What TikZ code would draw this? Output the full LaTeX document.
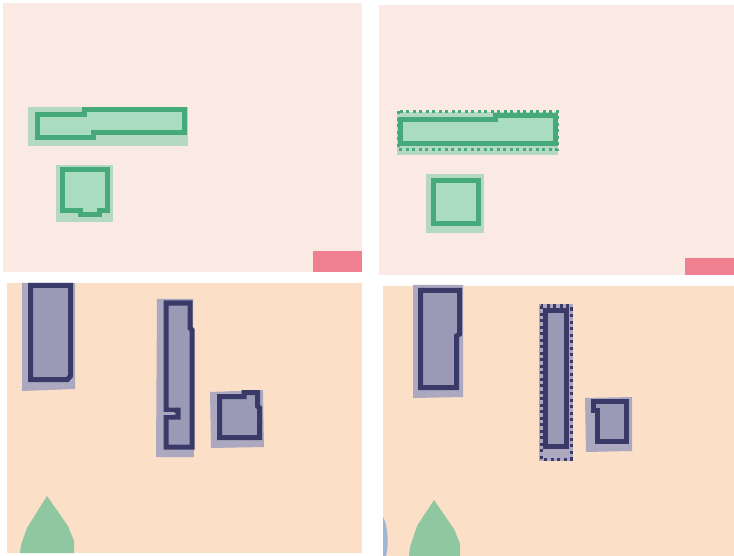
\documentclass[tikz,border=0pt]{standalone}
\usepackage{tikz}
\definecolor{cSkyT}{HTML}{FBEAE4}
\definecolor{cSandB}{HTML}{FBDFC7}
\definecolor{cGreen}{HTML}{45A97A}
\definecolor{cGreenL}{HTML}{AADCC2}
\definecolor{cGreenH}{HTML}{B3D9C3}
\definecolor{cNavy}{HTML}{3A3A68}
\definecolor{cNavyL}{HTML}{9A9AB6}
\definecolor{cNavyH}{HTML}{ACA8C0}
\definecolor{cLeaf}{HTML}{8FC7A0}
\definecolor{cRed}{HTML}{F0808F}
\definecolor{cPale}{HTML}{9DB8D6}

\begin{document}
\begin{tikzpicture}[
    x=1pt, y=-1pt,
    panelT/.style={fill=cSkyT},
    panelB/.style={fill=cSandB},
    ghalo/.style={fill=cGreenH},
    gline/.style={draw=cGreen, fill=cGreenL, line width=5pt, line join=miter},
    gdots/.style={draw=cGreen, line width=3pt, dash pattern=on 3pt off 3.5pt},
    nhalo/.style={fill=cNavyH},
    nline/.style={draw=cNavy, fill=cNavyL, line width=5pt, line join=miter},
    ndots/.style={draw=cNavy, line width=3pt, dash pattern=on 3pt off 3.5pt},
    spire/.style={fill=cLeaf},
    tag/.style={fill=cRed}]

    \useasboundingbox[fill=white] (0,0) rectangle (734,556);

    \fill[panelT] (3,3) rectangle (362,272);
    \fill[panelT] (379,5) rectangle (734,275);
    \fill[panelB] (7,283) rectangle (362,553);
    \fill[panelB] (383,286) rectangle (734,556);

    % top left
    \fill[ghalo] (28,107) rectangle (188,146);
    \draw[gline] (37,115) -- (84,115) -- (84,109.5) -- (184,109.5) -- (184,133)
      -- (93,133) -- (93,138) -- (37,138) -- cycle;
    \fill[ghalo] (56,165) rectangle (113,222);
    \draw[gline] (62,170) -- (107,170) -- (107,211) -- (99,211) -- (99,215)
      -- (80,215) -- (80,211) -- (62,211) -- cycle;
    \fill[tag] (313,251) rectangle (362,272);

    % top right
    \fill[ghalo] (397,112) rectangle (558,155);
    \draw[gdots] (398.5,111.5) rectangle (557,150);
    \draw[gline] (400,120) -- (495,120) -- (495,116) -- (555,116) -- (555,144)
      -- (400,144) -- cycle;
    \fill[ghalo] (426,174) rectangle (484,233);
    \draw[gline] (433.5,180.5) rectangle (478.5,223.5);
    \fill[tag] (685,258) rectangle (734,275);

    % bottom left
    \fill[nhalo] (22,283) -- (75,283) -- (75,389) -- (22,391) -- cycle;
    \draw[nline] (30.5,285.5) -- (70.5,285.5) -- (70.5,376) -- (67.5,379.5)
      -- (30.5,379.5) -- cycle;
    \fill[nhalo] (157,299) -- (193,299) -- (194,457) -- (156,457) -- cycle;
    \draw[nline] (166,303) -- (190,303) -- (190,328) -- (192,330) -- (192,447)
      -- (166,447) -- (166,417) -- (178,417) -- (178,410) -- (166,410) -- cycle;
    \fill[cNavyH] (163,412) rectangle (174,414.5);
    \fill[nhalo] (210,392) -- (263,390) -- (264,447) -- (211,448) -- cycle;
    \draw[nline] (219.5,396.5) -- (244,396.5) -- (244,392.5) -- (257.5,392.5)
      -- (257.5,406) -- (259.5,408) -- (259.5,437.5) -- (219.5,437.5) -- cycle;
    \fill[spire] (47,496) -- (68,526) -- (74,541) -- (74,553) -- (20,553)
      -- (21,545) -- (27,528) -- cycle;

    % bottom right
    \fill[nhalo] (413,285) -- (463,285) -- (463,397) -- (413,398) -- cycle;
    \draw[nline] (420.5,290.5) -- (459.5,290.5) -- (459.5,334) -- (456.5,336)
      -- (456.5,387.5) -- (420.5,387.5) -- cycle;
    \fill[nhalo] (539,304) rectangle (573,461);
    \draw[ndots] (541,306) rectangle (571,459);
    \draw[nline] (545.5,310.5) rectangle (566,446);
    \fill[nhalo] (585,398) -- (632,397) -- (632,451) -- (586,452) -- cycle;
    \draw[nline] (593,401.5) -- (626,401.5) -- (626,441) -- (597.5,441)
      -- (597.5,410) -- (593,410) -- cycle;
    \fill[spire] (434,500) -- (454,529) -- (460,544) -- (460,556) -- (409,556)
      -- (410,547) -- (417,526) -- cycle;
    \fill[cPale] (383,517) .. controls (388,525) and (389,545) .. (386,556)
      -- (383,556) -- cycle;
  \end{tikzpicture}
\end{document}
